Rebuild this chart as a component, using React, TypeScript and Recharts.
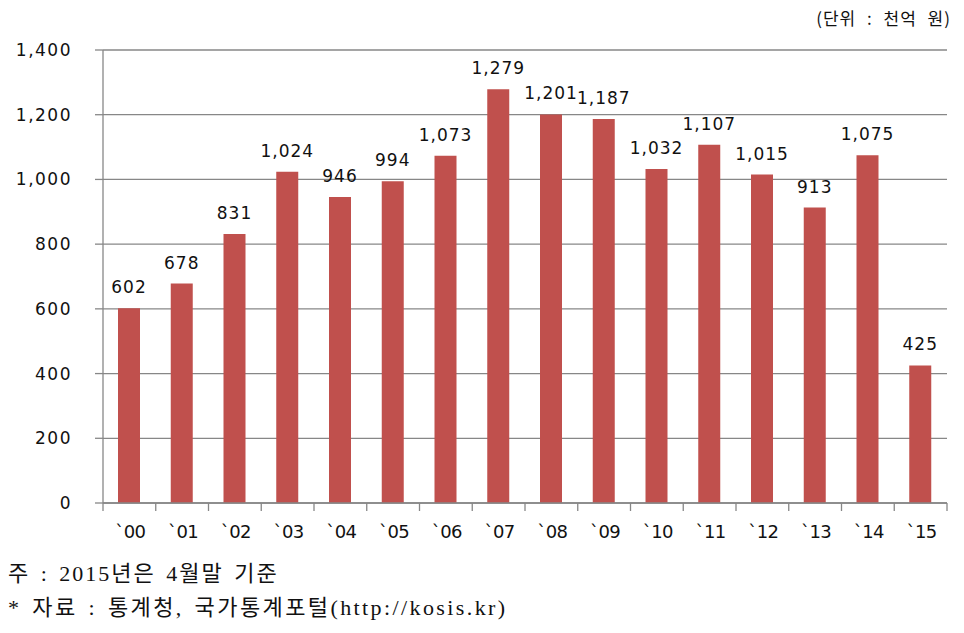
import { BarChart, Bar, XAxis, YAxis, CartesianGrid, LabelList } from 'recharts'

const years = ['`00', '`01', '`02', '`03', '`04', '`05', '`06', '`07', '`08', '`09', '`10', '`11', '`12', '`13', '`14', '`15']
const amounts = [602, 678, 831, 1024, 946, 994, 1073, 1279, 1201, 1187, 1032, 1107, 1015, 913, 1075, 425]
const yTicks = [0, 200, 400, 600, 800, 1000, 1200, 1400]

const data = years.map((y, i) => ({ year: y, value: amounts[i] }))

const W = 964
const LEFT = 103
const RIGHT = 17
const TOP = 50
const PLOT_H = 453
const X_AXIS_H = 42
const TICK_GAP = 12
const GRID = '#878787'
const fmt = (v: number) => v.toLocaleString('en-US')
const tickFont = { fontFamily: 'DejaVu Sans', fontSize: 17, fill: '#111', letterSpacing: 1.5 }
const labelFont = { fontFamily: 'DejaVu Sans', fontSize: 17, fill: '#111', letterSpacing: 1 }

const halfBand = (W - LEFT - RIGHT) / years.length / 2

function YearTick(props: any) {
  const { x, y, payload, index } = props
  const axisY = y - TICK_GAP
  return (
    <g>
      <line x1={x - halfBand} x2={x - halfBand} y1={axisY} y2={axisY + 8} stroke={GRID} strokeWidth={1.3} />
      {index === years.length - 1 && <line x1={x + halfBand} x2={x + halfBand} y1={axisY} y2={axisY + 8} stroke={GRID} strokeWidth={1.3} />}
      <text x={x + 1} y={y + 9} textAnchor="middle" dominantBaseline="hanging" fontFamily="DejaVu Sans" fontSize={18} letterSpacing={-0.5} fill="#111">
        {payload.value}
      </text>
    </g>
  )
}

export default function App() {
  return (
    <div style={{ position: 'absolute', left: 0, top: 0, width: W, height: 633, background: '#fff' }}>
      <div style={{ position: 'absolute', right: 13, top: 5, fontFamily: '"Noto Sans CJK KR"', fontSize: 17, color: '#111', letterSpacing: 1, wordSpacing: 6 }}>(단위 : 천억 원)</div>
      <BarChart width={W} height={TOP + PLOT_H + X_AXIS_H} data={data} margin={{ top: TOP, right: RIGHT, bottom: 0, left: 0 }}>
        <CartesianGrid vertical={false} stroke={GRID} strokeWidth={1.3} />
        <XAxis dataKey="year" height={X_AXIS_H} axisLine={{ stroke: GRID, strokeWidth: 1.3 }} tickLine={false} tickSize={0} tickMargin={TICK_GAP} tick={<YearTick />} interval={0} />
        <YAxis domain={[0, 1400]} ticks={yTicks} width={LEFT} tickFormatter={fmt} tickSize={8} tickMargin={23} axisLine={{ stroke: GRID, strokeWidth: 1.3 }} tickLine={{ stroke: GRID, strokeWidth: 1.3 }} tick={tickFont} />
        <Bar dataKey="value" fill="#C0504D" barSize={22} isAnimationActive={false}>
          <LabelList dataKey="value" position="top" offset={15} formatter={(v: any) => fmt(Number(v))} style={labelFont} />
        </Bar>
      </BarChart>
      <div style={{ position: 'absolute', left: 8, top: 557, fontFamily: '"Liberation Serif", "Noto Sans CJK KR"', fontSize: 22, color: '#111', lineHeight: '34px', letterSpacing: 2, wordSpacing: 3 }}>
        <div>주 : 2015년은 4월말 기준</div>
        <div style={{ letterSpacing: 2.4 }}>* 자료 : 통계청, 국가통계포털(http://kosis.kr)</div>
      </div>
    </div>
  )
}
